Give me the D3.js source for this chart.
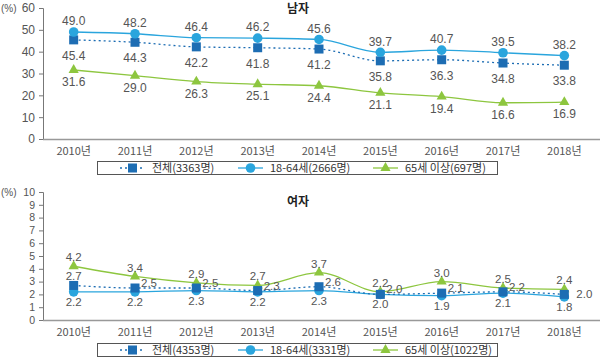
<!DOCTYPE html>
<html><head><meta charset="utf-8">
<script src="https://cdn.jsdelivr.net/npm/d3@7"></script>
<style>
body{margin:0;background:#fff;}
text{font-family:"Noto Sans CJK KR","Noto Sans",sans-serif;}
.num{font-family:"Liberation Sans",Arial,sans-serif;}
</style></head>
<body><svg id="c" width="600" height="359"></svg>
<script>
const years = ["2010년","2011년","2012년","2013년","2014년","2015년","2016년","2017년","2018년"];
const maleTotal = [45.4,44.3,42.2,41.8,41.2,35.8,36.3,34.8,33.8];
const maleWorking = [49.0,48.2,46.4,46.2,45.6,39.7,40.7,39.5,38.2];
const maleElder = [31.6,29.0,26.3,25.1,24.4,21.1,19.4,16.6,16.9];
const femaleTotal = [2.7,2.5,2.5,2.3,2.6,2.0,2.1,2.2,2.0];
const femaleWorking = [2.2,2.2,2.3,2.2,2.3,2.0,1.9,2.1,1.8];
const femaleElder = [4.2,3.4,2.9,2.7,3.7,2.2,3.0,2.5,2.4];
const maleTicks = [0,10,20,30,40,50,60];
const femaleTicks = [0,1,2,3,4,5,6,7,8,9,10];
const maleLegend = ["전체(3363명)","18-64세(2666명)","65세 이상(697명)"];
const femaleLegend = ["전체(4353명)","18-64세(3331명)","65세 이상(1022명)"];

const C_TOTAL="#1d6db3", C_WORK="#2aa5dd", C_ELD="#8dc63f", TXT="#555";
const svg = d3.select("#c");
const x = d3.scalePoint().domain(years).range([43,595]).padding(0.5);

function panel(opt){
  const g = svg.append("g");
  const y = d3.scaleLinear().domain([0,opt.max]).range([opt.y0,opt.y1]);
  const ya = g.append("g").attr("transform","translate(43,0)")
    .call(d3.axisLeft(y).tickValues(opt.ticks).tickSize(4).tickPadding(4).tickFormat(d3.format("d")));
  ya.attr("font-family",null);
  ya.select(".domain").attr("stroke","#777");
  ya.selectAll(".tick line").attr("stroke","#777");
  ya.selectAll("text").attr("class","num").attr("fill",TXT).attr("font-size",opt.tickFs);
  g.append("text").attr("x",1).attr("y",y(opt.max)).attr("dy","0.35em").attr("class","num").attr("font-size",10).attr("fill",TXT).text("(%)");
  g.append("line").attr("x1",43).attr("x2",600).attr("y1",opt.y0+0.5).attr("y2",opt.y0+0.5).attr("stroke","#999").attr("stroke-width",1.5);
  g.selectAll(".xl").data(years).join("text").attr("x",d=>x(d)).attr("y",opt.y0+12).attr("dy","0.35em")
    .attr("text-anchor","middle").attr("font-size",11).attr("fill",TXT).text(d=>d);
  g.append("text").attr("x",298).attr("y",opt.titleY).attr("dy","0.35em").attr("text-anchor","middle")
    .attr("font-size",12).attr("font-weight","bold").attr("fill","#222").text(opt.title);

  const line = d3.line().x((d,i)=>x(years[i])).y(d=>y(d)).curve(d3.curveMonotoneX);
  const series = [
    {v:opt.total,c:C_TOTAL,dash:"2,3",shape:"sq",lab:opt.labTotal},
    {v:opt.work,c:C_WORK,dash:null,shape:"ci",lab:opt.labWork},
    {v:opt.eld,c:C_ELD,dash:null,shape:"tr",lab:opt.labEld}
  ];
  const order = opt.drawOrder;
  order.forEach(k=>{
    const s=series[k];
    g.append("path").attr("d",line(s.v)).attr("fill","none").attr("stroke",s.c).attr("stroke-width",1.3)
      .attr("stroke-dasharray",s.dash);
  });
  order.forEach(k=>{
    const s=series[k];
    s.v.forEach((d,i)=>marker(g,s.shape,x(years[i]),y(d),s.c));
  });
  series.forEach(s=>{
    g.selectAll(null).data(s.v).join("text").attr("class","num")
      .attr("x",(d,i)=>x(years[i])+s.lab(i)[0]).attr("y",(d,i)=>y(d)+s.lab(i)[1]).attr("dy","0.35em")
      .attr("text-anchor","middle").attr("font-size",opt.labFs).attr("fill",TXT).text(d=>d.toFixed(1));
  });
  const ly=opt.legY;
  g.append("rect").attr("x",97.5).attr("y",ly+0.5).attr("width",400).attr("height",13).attr("fill","#fff").attr("stroke","#555");
  const lx=[120,238,373];
  series.forEach((s,k)=>{
    g.append("line").attr("x1",lx[k]).attr("x2",lx[k]+25).attr("y1",ly+7).attr("y2",ly+7)
      .attr("stroke",s.c).attr("stroke-width",1.3).attr("stroke-dasharray",s.dash);
    marker(g,s.shape,lx[k]+12.5,ly+7,s.c);
    g.append("text").attr("x",lx[k]+32).attr("y",ly+7).attr("dy","0.35em").attr("font-size",11).attr("fill","#333").text(opt.legend[k]);
  });
}
function marker(g,shape,cx,cy,c){
  if(shape==="sq") g.append("rect").attr("x",cx-4.5).attr("y",cy-4.5).attr("width",9).attr("height",9).attr("fill",c);
  else if(shape==="ci") g.append("circle").attr("cx",cx).attr("cy",cy).attr("r",4.8).attr("fill",c);
  else g.append("path").attr("d",d3.symbol(d3.symbolTriangle,45)()).attr("transform",`translate(${cx},${cy})`).attr("fill",c);
}

panel({max:60,y0:139,y1:8,ticks:maleTicks,title:"남자",titleY:9,legY:161,legend:maleLegend,tickFs:12,labFs:12,
  total:maleTotal,work:maleWorking,eld:maleElder,drawOrder:[2,0,1],
  labTotal:i=>[0,16],labWork:i=>[0,-11],labEld:i=>[0,12]});
panel({max:10,y0:320,y1:192,ticks:femaleTicks,title:"여자",titleY:202,legY:343,legend:femaleLegend,tickFs:10.5,labFs:11.5,
  total:femaleTotal,work:femaleWorking,eld:femaleElder,drawOrder:[2,1,0],
  labTotal:i=>i===0?[0,-9]:(i===8?[20,0]:[14,-5]),labWork:i=>[0,10],labEld:i=>[0,-9]});
</script></body></html>
